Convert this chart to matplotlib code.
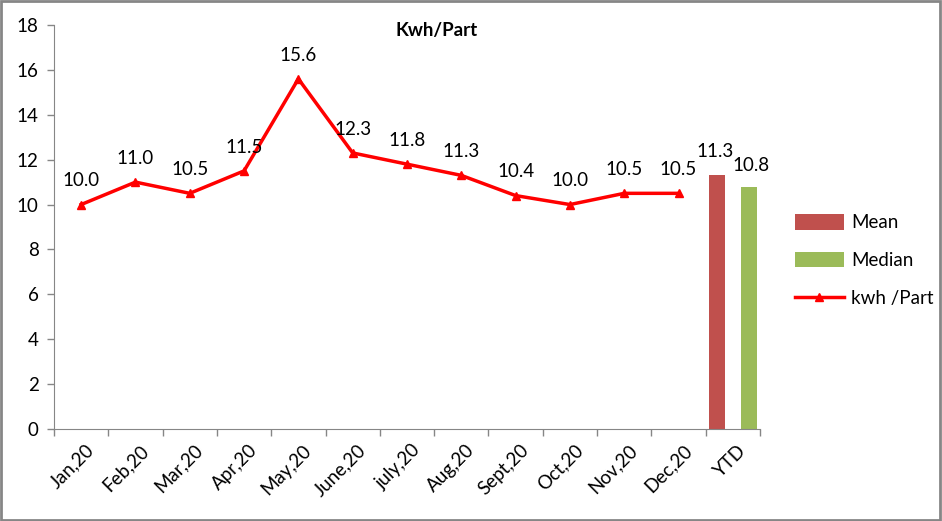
import numpy as np
import matplotlib
matplotlib.use("Agg")
import matplotlib.pyplot as plt
from matplotlib.patches import Rectangle

plt.rcParams["font.family"] = ["Lato", "DejaVu Sans"]

# data
months = ["Jan,20", "Feb,20", "Mar,20", "Apr,20", "May,20", "June,20",
          "july,20", "Aug,20", "Sept,20", "Oct,20", "Nov,20", "Dec,20"]
kwh_part = [10.0, 11.0, 10.5, 11.5, 15.6, 12.3, 11.8, 11.3, 10.4, 10.0, 10.5, 10.5]
ytd_label = "YTD"
ytd_mean = 11.3
ytd_median = 10.8

categories = months + [ytd_label]
axis_grey = "#868686"
fs = 13.5

fig = plt.figure(figsize=(9.42, 5.21), dpi=100)
ax = fig.add_axes([0.0573, 0.1766, 0.7495, 0.7754])

x = np.arange(len(months))
ax.plot(x, kwh_part, color="#FF0000", lw=2.5, marker="^", ms=6,
        label="kwh /Part", zorder=3)
for xi, v in zip(x, kwh_part):
    ax.annotate(f"{v:.1f}", (xi, v), xytext=(0, 17), textcoords="offset points",
                ha="center", va="center", fontsize=fs)

xy = len(months)
bw = 0.295
ax.bar(xy - 0.285, ytd_mean, width=bw, color="#C0504D", label="Mean")
ax.bar(xy + 0.305, ytd_median, width=bw, color="#9BBB59", label="Median")
ax.annotate(f"{ytd_mean:.1f}", (xy - 0.32, ytd_mean), xytext=(0, 17),
            textcoords="offset points", ha="center", va="center", fontsize=fs)
ax.annotate(f"{ytd_median:.1f}", (xy + 0.33, ytd_median), xytext=(0, 15),
            textcoords="offset points", ha="center", va="center", fontsize=fs)

ax.set_xlim(-0.5, len(categories) - 0.5)
ax.set_ylim(0, 18)
ax.set_yticks(range(0, 19, 2))
ax.tick_params(axis="y", labelsize=fs, color=axis_grey, length=5, width=1, pad=6)

# category boundary ticks, labels at centres
ax.set_xticks(np.arange(len(categories) + 1) - 0.5)
ax.set_xticklabels([])
ax.set_xticks(np.arange(len(categories)) + 0.08, minor=True)
ax.set_xticklabels(categories, minor=True, rotation=45, ha="right",
                   rotation_mode="anchor", fontsize=fs)
ax.tick_params(axis="x", which="major", color=axis_grey, length=5, width=1)
ax.tick_params(axis="x", which="minor", length=0, pad=9)

for s in ["top", "right"]:
    ax.spines[s].set_visible(False)
for s in ["left", "bottom"]:
    ax.spines[s].set_color(axis_grey)

fig.text(0.464, 0.942, "Kwh/Part", ha="center", va="center",
         fontsize=fs, fontweight="bold")

handles, labels = ax.get_legend_handles_labels()
order = [1, 2, 0]
fig.legend([handles[i] for i in order], [labels[i] for i in order],
           loc="center left", bbox_to_anchor=(0.826, 0.5), frameon=False,
           fontsize=fs, handlelength=2.6, handleheight=0.9,
           labelspacing=1.1, handletextpad=0.4)

fig.patches.append(Rectangle((0.001, 0.002), 0.997, 0.996, transform=fig.transFigure,
                             fill=False, edgecolor=axis_grey, lw=2))

fig.savefig("out.png", dpi=100)
